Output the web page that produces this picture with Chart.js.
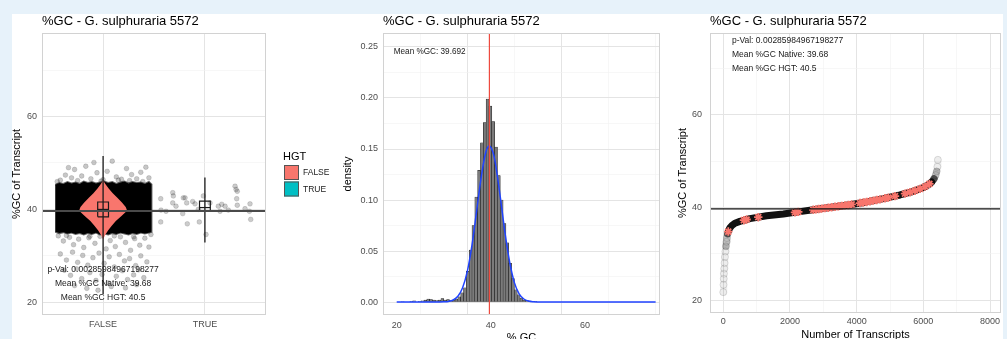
<!DOCTYPE html>
<html>
<head>
<meta charset="utf-8">
<script src="https://cdn.jsdelivr.net/npm/chart.js@4.4.0/dist/chart.umd.min.js"></script>
<style>
  html, body { margin: 0; padding: 0; background: #e7f2fa; overflow: hidden; }
  #sheet { position: absolute; left: 12px; top: 14px; width: 991px; height: 340px; background: #fff; }
  canvas { position: absolute; top: 0; }
  #gcViolin { left: 0; }
  #gcHist { left: 340px; }
  #gcRank { left: 670px; }
</style>
</head>
<body>
<div id="sheet"></div>
<canvas id="gcViolin" width="340" height="354"></canvas>
<canvas id="gcHist" width="330" height="354"></canvas>
<canvas id="gcRank" width="337" height="354"></canvas>
<script>
// ---- data ----
const chartTitle = '%GC - G. sulphuraria 5572';
const groups = ['FALSE', 'TRUE'];
const pVal = '0.00285984967198277';
const meanNative = 39.68;
const meanHgt = 40.5;
const meanGc = 39.692;

// boxplot stats per group
const boxQ1 = [38.4, 39.6];
const boxMed = [40.0, 40.4];
const boxQ3 = [41.6, 41.8];
const whiskLo = [21.8, 32.9];
const whiskHi = [51.5, 46.9];

// violin of the native group (half width in category units)
const violinY = [33.5, 34.5, 35.5, 36.5, 37.5, 38.5, 39.5, 40, 40.5, 41.5, 42.5, 43.5, 44.5, 45.5, 46.3];
const violinHalf = [0, 0.02, 0.05, 0.085, 0.125, 0.175, 0.225, 0.232, 0.222, 0.185, 0.14, 0.095, 0.055, 0.022, 0];

// dense jitter cloud of native transcripts (outline)
const cloudX = [0.53, 0.57, 0.61, 0.65, 0.69, 0.73, 0.77, 0.81, 0.85, 0.89, 0.93, 0.97, 1.01, 1.05, 1.09, 1.13, 1.17, 1.21, 1.25, 1.29, 1.33, 1.37, 1.41, 1.45, 1.475];
const cloudTop = [45.3, 45.7, 45.5, 45.9, 45.6, 45.8, 45.5, 46.0, 45.7, 45.9, 45.6, 45.8, 46.0, 45.7, 45.9, 45.5, 45.8, 46.0, 45.6, 45.9, 45.7, 45.8, 45.5, 45.9, 45.4];
const cloudBottom = [35.2, 34.9, 35.1, 34.8, 35.0, 34.7, 34.9, 34.6, 34.9, 34.7, 35.0, 34.6, 34.8, 34.6, 34.9, 34.7, 35.0, 34.8, 34.6, 34.9, 34.7, 35.0, 34.8, 35.0, 35.2];

// sparse native points outside the cloud
const outX = [0.58, 0.63, 0.69, 0.72, 0.79, 0.83, 0.88, 0.94, 1.00, 1.04, 1.09, 1.13, 1.18, 1.23, 1.28, 1.33, 1.37, 1.42, 1.45, 0.66, 0.91, 1.26,
  0.56, 0.61, 0.67, 0.71, 0.76, 0.81, 0.86, 0.92, 0.97, 1.03, 1.07, 1.12, 1.17, 1.22, 1.27, 1.31, 1.36, 1.41, 1.45,
  0.58, 0.64, 0.70, 0.75, 0.80, 0.85, 0.90, 0.96, 1.01, 1.06, 1.11, 1.16, 1.21, 1.26, 1.32, 1.37, 1.43,
  0.62, 0.68, 0.74, 0.79, 0.87, 0.93, 0.99, 1.05, 1.13, 1.19, 1.24, 1.30, 1.35, 1.40,
  0.72, 0.84, 0.95, 1.08, 1.22, 1.33,
  0.55, 0.75, 0.98, 1.15, 1.39, 0.64, 0.87, 1.11, 1.30, 1.47];
const outY = [46.3, 47.4, 46.8, 48.6, 47.2, 49.3, 46.6, 47.9, 46.4, 48.2, 50.4, 47.0, 46.5, 48.8, 47.5, 46.6, 48.0, 49.1, 46.8, 49.0, 50.1, 46.2,
  34.3, 33.2, 34.0, 32.4, 33.6, 31.8, 33.9, 32.7, 34.2, 31.5, 33.3, 32.0, 34.1, 32.9, 31.2, 33.7, 32.3, 33.8, 31.9,
  30.4, 29.1, 30.8, 28.6, 30.1, 28.0, 29.6, 30.6, 28.4, 29.8, 27.6, 30.3, 28.9, 29.4, 27.9, 30.0, 28.7,
  26.9, 25.8, 27.2, 25.1, 26.4, 24.7, 26.0, 24.2, 25.6, 26.8, 24.9, 25.9, 27.0, 25.3,
  23.6, 23.0, 22.6, 23.4, 23.1, 23.8,
  46.0, 46.2, 46.1, 46.3, 46.0, 34.4, 34.2, 34.3, 34.1, 34.6];

// HGT transcripts (jittered around TRUE)
const hgtX = [1.566, 1.569, 1.618, 1.566, 1.684, 1.69, 1.684, 1.716, 1.788, 1.805, 1.821, 1.782, 1.827, 1.88, 1.903, 1.935, 1.945,
  1.985, 2.011, 2.05, 2.132, 2.149, 2.165, 2.198, 2.23, 2.296, 2.306, 2.318, 2.312, 2.318, 2.394, 2.443, 2.437, 2.45];
const hgtY = [42.3, 39.85, 39.6, 37.3, 43.6, 42.9, 41.4, 40.7, 42.5, 42.5, 41.4, 39.1, 36.9, 41.7, 41.2, 40.0, 37.3,
  42.9, 34.6, 41.4, 40.7, 39.6, 41.1, 40.7, 39.85, 45.0, 44.3, 43.9, 42.3, 40.9, 40.15, 41.2, 39.6, 37.85];

// histogram (bin centres, density)
const histX = [21.3, 21.9, 22.5, 23.1, 23.7, 24.3, 24.9, 25.5, 26.1, 26.7, 27.3, 27.9, 28.5, 29.1, 29.7, 30.3, 30.9, 31.5,
  32.1, 32.7, 33.3, 33.9, 34.5, 35.1, 35.7, 36.3, 36.9, 37.5, 38.1, 38.7, 39.3, 39.9, 40.5, 41.1, 41.7, 42.3,
  42.9, 43.5, 44.1, 44.7, 45.3, 45.9, 46.5, 47.1, 47.7, 48.3, 48.9, 49.5];
const histDensity = [0.0005, null, null, 0.0006, 0.0012, null, 0.0006, 0.0012, 0.002, 0.003, 0.0025, 0.002, 0.0015, 0.002, 0.0035, 0.002, 0.0025, 0.0015,
  0.002, 0.003, 0.005, 0.009, 0.014, 0.030, 0.051, 0.075, 0.103, 0.129, 0.156, 0.176, 0.199, 0.192, 0.177, 0.152, 0.124, 0.100,
  0.077, 0.058, 0.038, 0.023, 0.012, 0.007, 0.004, 0.002, 0.0015, 0.001, 0.0008, 0.0004];

// fitted normal curve
const normX = [20, 28, 30, 31, 32, 33, 34, 35, 36, 37, 38, 39, 39.7, 40.5, 41, 42, 43, 44, 45, 46, 47, 48, 49, 50, 52, 75];
const normY = [0, 0, 0.0002, 0.0006, 0.002, 0.0057, 0.0141, 0.030, 0.056, 0.090, 0.124, 0.148, 0.153, 0.146, 0.135, 0.103, 0.068, 0.039, 0.019, 0.008, 0.003, 0.001, 0.0003, 0.0001, 0, 0];

// sorted %GC curve (rank, %GC)
const rankX = [0, 8, 15, 22, 30, 40, 52, 65, 80, 95, 110, 130, 160, 200, 260, 350, 500, 800, 1300, 1800, 2300, 2800, 3300, 3800,
  4300, 4800, 5300, 5700, 6000, 6150, 6250, 6320, 6370, 6400, 6420, 6435];
const rankGc = [21.7, 23.3, 24.6, 25.7, 26.8, 28.0, 29.3, 30.5, 31.6, 32.6, 33.4, 34.3, 35.0, 35.6, 36.1, 36.6, 37.0, 37.6, 38.2, 38.6, 39.1, 39.6, 40.1, 40.6,
  41.2, 41.9, 42.7, 43.5, 44.3, 44.9, 45.5, 46.2, 47.0, 47.8, 48.8, 50.3];
const hgtRank = [150, 620, 700, 1050, 2150, 2250, 2700, 2780, 2860, 2950, 3050, 3150, 3250, 3350, 3450, 3550, 3650, 3750, 3850,
  4100, 4200, 4300, 4400, 4500, 4600, 4700, 4850, 4950, 5150, 5450, 5600, 5750, 5900, 6050, 6180];
const hgtGc = [34.8, 37.25, 37.4, 37.9, 38.95, 39.05, 39.5, 39.58, 39.66, 39.75, 39.85, 39.95, 40.05, 40.15, 40.25, 40.35, 40.45, 40.55, 40.66,
  40.96, 41.08, 41.2, 41.34, 41.48, 41.62, 41.76, 41.98, 42.14, 42.46, 43.0, 43.3, 43.63, 44.03, 44.5, 45.08];

// axis ticks
const gcMajor = [20, 40, 60], gcMinor = [30, 50, 70];
const densMajor = [0, 0.05, 0.10, 0.15, 0.20, 0.25], densMinor = [0.025, 0.075, 0.125, 0.175, 0.225];
const pctMajor = [20, 40, 60], pctMinor = [30, 50, 70];
const rankMajor = [0, 2000, 4000, 6000, 8000], rankMinor = [1000, 3000, 5000, 7000];

// ---- styling / helpers ----
const FONT = '"Liberation Sans", Arial, Helvetica, sans-serif';
const SALMON = '#F8766D', TEAL = '#00BFC4';
Chart.defaults.font.family = FONT;
Chart.defaults.color = '#4d4d4d';
Chart.defaults.animation = false;
Chart.defaults.events = [];
Chart.defaults.plugins.legend.display = false;
Chart.defaults.plugins.tooltip.enabled = false;

function setTicks(major, minor, fmt) {
  return scale => {
    const t = major.map(v => ({ value: v, name: fmt(v) }))
      .concat(minor.map(v => ({ value: v, name: '' })));
    t.sort((a, b) => a.value - b.value);
    scale.ticks = t;
  };
}

function makeAxis(o) {
  return {
    type: 'linear', min: o.min, max: o.max, offset: false,
    afterBuildTicks: setTicks(o.major, o.minor, o.fmt || (v => String(v))),
    afterFit: s => { if (o.width) s.width = o.width; if (o.height) s.height = o.height; },
    grid: {
      drawTicks: false,
      color: c => (c.tick && c.tick.name) ? '#e4e4e4' : '#f2f2f2',
      lineWidth: c => (c.tick && c.tick.name) ? 1 : 0.6
    },
    border: { display: false },
    ticks: { autoSkip: false, maxRotation: 0, padding: o.pad, font: { size: 9 }, color: '#4d4d4d',
      callback: (v, i, ticks) => ticks[i].name },
    title: { display: !!o.title, text: o.title || '', color: '#000', font: { size: 11 }, padding: 0 }
  };
}

function decor(cfg) {
  return {
    id: 'decor',
    afterDatasetsDraw(chart) {
      const { ctx, chartArea: a, scales } = chart;
      ctx.save();
      ctx.strokeStyle = '#d2d2d2';
      ctx.lineWidth = 1;
      ctx.strokeRect(a.left + 0.5, a.top + 0.5, a.width - 1, a.height - 1);
      ctx.fillStyle = '#1a1a1a';
      ctx.textBaseline = 'middle';
      ctx.font = (cfg.noteSize || 8) + 'px ' + FONT;
      (cfg.notes || []).forEach(n => {
        ctx.textAlign = n.align || 'center';
        ctx.fillText(n.text, scales.x.getPixelForValue(n.x), scales.y.getPixelForValue(n.y));
      });
      ctx.fillStyle = '#000';
      ctx.font = '13px ' + FONT;
      ctx.textAlign = 'left';
      ctx.fillText(chartTitle, a.left, a.top - 12);
      if (cfg.legend) {
        const lx = a.right + 17, ly = 157;
        ctx.font = '11px ' + FONT;
        ctx.fillText('HGT', lx, ly);
        ctx.font = '8.5px ' + FONT;
        [SALMON, TEAL].forEach((col, i) => {
          const y = ly + 8 + i * 16.5;
          ctx.fillStyle = col;
          ctx.fillRect(lx + 1, y, 15, 15);
          ctx.strokeStyle = '#555';
          ctx.lineWidth = 1;
          ctx.strokeRect(lx + 1.5, y + 0.5, 14, 14);
          ctx.fillStyle = '#1a1a1a';
          ctx.fillText(groups[i], lx + 20, y + 8);
        });
      }
      ctx.restore();
    }
  };
}

const pts = (xs, ys) => xs.map((x, i) => ({ x, y: ys[i] }));

// ---- panel 1: jitter + violin + boxplot ----
const X1 = [0.4, 2.6], Y1 = [17.26, 78.0];
const BOX_HALF = 0.053;
const violinPts = violinY.map((y, i) => ({ x: 1 + violinHalf[i], y }))
  .concat(violinY.map((y, i) => ({ x: 1 - violinHalf[i], y })).reverse());
const cloudPts = pts(cloudX, cloudTop).concat(pts(cloudX, cloudBottom).reverse());

const panel1Sets = [
  { type: 'line', data: cloudPts, fill: 'shape', backgroundColor: '#000', borderColor: 'rgba(0,0,0,0.6)', borderWidth: 2, pointRadius: 0, order: 9 },
  { type: 'scatter', data: pts(outX, outY), pointRadius: 2.4, backgroundColor: 'rgba(0,0,0,0.22)', borderColor: 'rgba(0,0,0,0.27)', borderWidth: 0.5, order: 8 },
  { type: 'scatter', data: pts(hgtX, hgtY), pointRadius: 2.4, backgroundColor: 'rgba(0,0,0,0.2)', borderColor: 'rgba(0,0,0,0.25)', borderWidth: 0.5, order: 8 },
  { type: 'line', data: violinPts, fill: 'shape', backgroundColor: SALMON, borderColor: SALMON, borderWidth: 0, pointRadius: 0, order: 6 }
];
[1, 2].forEach((g, i) => {
  panel1Sets.push({ type: 'line', data: [{ x: g, y: whiskLo[i] }, { x: g, y: whiskHi[i] }], borderColor: '#1a1a1a', borderWidth: 1.3, pointRadius: 0, order: 4 });
  panel1Sets.push({ type: 'line', data: [
      { x: g - BOX_HALF, y: boxQ1[i] }, { x: g + BOX_HALF, y: boxQ1[i] }, { x: g + BOX_HALF, y: boxQ3[i] },
      { x: g - BOX_HALF, y: boxQ3[i] }, { x: g - BOX_HALF, y: boxQ1[i] }],
    borderColor: '#1a1a1a', borderWidth: 1.2, pointRadius: 0, order: 3 });
  panel1Sets.push({ type: 'line', data: [{ x: g - BOX_HALF, y: boxMed[i] }, { x: g + BOX_HALF, y: boxMed[i] }],
    borderColor: '#1a1a1a', borderWidth: 1.2, pointRadius: 0, order: 3 });
});
panel1Sets.push({ type: 'line', data: [{ x: X1[0], y: meanNative }, { x: X1[1], y: meanNative }], borderColor: '#4a4a4a', borderWidth: 2, pointRadius: 0, order: 1 });

new Chart(document.getElementById('gcViolin'), {
  type: 'scatter',
  data: { datasets: panel1Sets },
  options: {
    responsive: false,
    layout: { padding: { left: 10, top: 33, right: 74, bottom: 0 } },
    scales: {
      x: makeAxis({ min: X1[0], max: X1[1], major: [1, 2], minor: [], fmt: v => groups[v - 1], height: 39, pad: 4 }),
      y: makeAxis({ min: Y1[0], max: Y1[1], major: gcMajor, minor: gcMinor, width: 32, pad: 5, title: '%GC of Transcript' })
    }
  },
  plugins: [decor({
    legend: true,
    noteSize: 8.5,
    notes: [
      { text: 'p-Val: ' + pVal, x: 1, y: 27.1 },
      { text: 'Mean %GC Native: ' + meanNative, x: 1, y: 24.0 },
      { text: 'Mean %GC HGT: ' + meanHgt, x: 1, y: 21.1 }
    ]
  })]
});

// ---- panel 2: histogram ----
const X2 = [17.09, 75.93], Y2 = [-0.0127, 0.2637];
new Chart(document.getElementById('gcHist'), {
  type: 'bar',
  data: {
    datasets: [
      { type: 'bar', data: pts(histX, histDensity), backgroundColor: '#7b7b7b', borderColor: '#111', borderWidth: 0.5,
        borderSkipped: false, barPercentage: 1, categoryPercentage: 1, order: 5 },
      { type: 'line', data: pts(normX, normY), borderColor: '#2043ff', borderWidth: 1.5, cubicInterpolationMode: 'monotone',
        pointRadius: 0, order: 2 },
      { type: 'line', data: [{ x: meanGc, y: Y2[0] }, { x: meanGc, y: Y2[1] }], borderColor: '#ee4a3f', borderWidth: 1.2,
        pointRadius: 0, order: 1 }
    ]
  },
  options: {
    responsive: false,
    layout: { padding: { left: 1.4, top: 33, right: 10, bottom: 9.4 } },
    scales: {
      x: makeAxis({ min: X2[0], max: X2[1], major: pctMajor, minor: pctMinor, height: 29.6, pad: 5.5, title: '% GC' }),
      y: makeAxis({ min: Y2[0], max: Y2[1], major: densMajor, minor: densMinor, fmt: v => v.toFixed(2), width: 41.6, pad: 5, title: 'density' })
    }
  },
  plugins: [decor({ noteSize: 8.2, notes: [{ text: 'Mean %GC: ' + meanGc, x: 27.0, y: 0.245 }] })]
});

// ---- panel 3: sorted %GC ----
const X3 = [-397, 8328], Y3 = [17.2, 77.7];
const segColor = c => {
  const lo = Math.min(c.p0.parsed.y, c.p1.parsed.y), hi = Math.max(c.p0.parsed.y, c.p1.parsed.y);
  if (lo < 31 || hi > 48) return 'rgba(0,0,0,0.07)';
  if (lo < 33.5 || hi > 46.5) return 'rgba(0,0,0,0.25)';
  if (lo < 34.5 || hi > 45.5) return 'rgba(20,20,20,0.65)';
  return '#111';
};
new Chart(document.getElementById('gcRank'), {
  type: 'scatter',
  data: {
    datasets: [
      { type: 'line', data: [{ x: X3[0], y: meanNative }, { x: X3[1], y: meanNative }], borderColor: '#111', borderWidth: 1.2, pointRadius: 0, order: 1 },
      { type: 'scatter', data: pts(hgtRank, hgtGc), pointStyle: 'star', pointRadius: 4.2, borderColor: SALMON, backgroundColor: SALMON, borderWidth: 1.8, order: 2 },
      { type: 'line', data: pts(rankX, rankGc), borderWidth: 7, borderColor: '#111', borderCapStyle: 'round', borderJoinStyle: 'round',
        segment: { borderColor: segColor },
        pointRadius: c => (c.raw && (c.raw.y < 34 || c.raw.y > 46)) ? 3.5 : 0,
        pointBackgroundColor: 'rgba(255,255,255,0)', pointBorderColor: 'rgba(0,0,0,0.16)', pointBorderWidth: 0.8, order: 3 }
    ]
  },
  options: {
    responsive: false,
    layout: { padding: { left: 6.7, top: 33, right: 5, bottom: 12.1 } },
    scales: {
      x: makeAxis({ min: X3[0], max: X3[1], major: rankMajor, minor: rankMinor, height: 28.9, pad: 3.5, title: 'Number of Transcripts' }),
      y: makeAxis({ min: Y3[0], max: Y3[1], major: gcMajor, minor: gcMinor, width: 33.3, pad: 8, title: '%GC of Transcript' })
    }
  },
  plugins: [decor({
    noteSize: 8.5,
    notes: [
      { text: 'p-Val: ' + pVal, x: 260, y: 76.0, align: 'left' },
      { text: 'Mean %GC Native: ' + meanNative, x: 260, y: 73.0, align: 'left' },
      { text: 'Mean %GC HGT: ' + meanHgt, x: 260, y: 70.0, align: 'left' }
    ]
  })]
});
</script>
</body>
</html>
